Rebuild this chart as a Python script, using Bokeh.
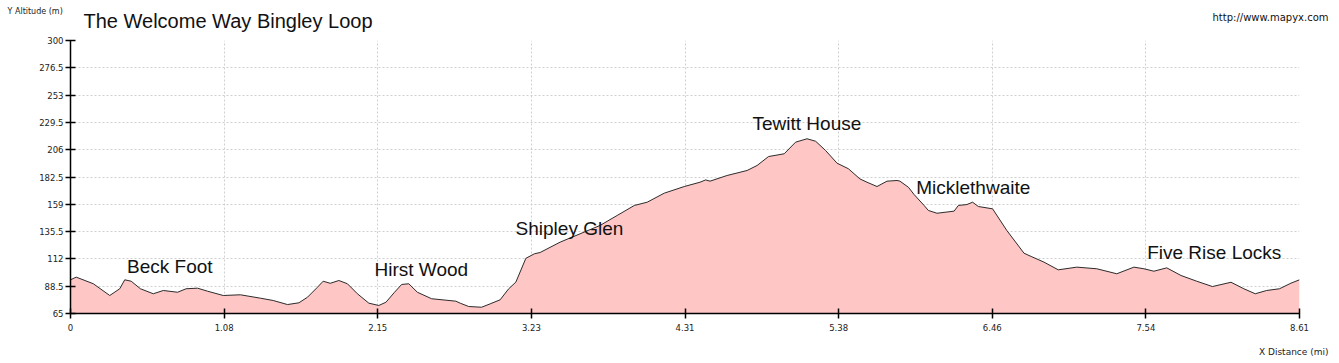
from bokeh.plotting import figure
from bokeh.models import Range1d, FixedTicker, Label
from bokeh.embed import file_html
from bokeh.resources import INLINE

# ---- data ----
distance_mi = [0.00, 0.04, 0.16, 0.275, 0.345, 0.38, 0.425, 0.49, 0.58, 0.65, 0.75, 0.81, 0.89, 0.96,
               1.07, 1.19, 1.33, 1.42, 1.52, 1.60, 1.66, 1.73, 1.77, 1.82, 1.88, 1.94, 2.01, 2.09,
               2.16, 2.21, 2.27, 2.32, 2.37, 2.43, 2.53, 2.70, 2.73, 2.79, 2.88, 2.94, 3.01, 3.07,
               3.12, 3.19, 3.25, 3.29, 3.43, 3.57, 3.71, 3.83, 3.95, 4.04, 4.16, 4.30, 4.41, 4.45,
               4.48, 4.60, 4.74, 4.81, 4.89, 5.00, 5.08, 5.16, 5.22, 5.29, 5.37, 5.45, 5.53, 5.58,
               5.65, 5.72, 5.79, 5.81, 5.87, 5.91, 5.98, 6.01, 6.07, 6.19, 6.22, 6.28, 6.32, 6.36,
               6.46, 6.56, 6.68, 6.73, 6.82, 6.92, 7.05, 7.19, 7.33, 7.45, 7.52, 7.59, 7.68, 7.78,
               7.89, 8.00, 8.13, 8.22, 8.30, 8.38, 8.47, 8.55, 8.61]
altitude_m = [94.0, 96.3, 90.6, 80.5, 86.3, 94.0, 92.8, 86.3, 82.0, 84.8, 83.3, 86.3, 86.8, 84.2,
              80.5, 81.1, 78.2, 76.2, 72.7, 74.2, 79.0, 87.6, 92.8, 91.0, 93.4, 90.6, 82.0, 73.9,
              71.9, 74.7, 83.3, 90.0, 90.6, 83.3, 77.7, 75.6, 73.9, 71.0, 70.4, 73.3, 76.8, 86.3,
              92.0, 112.5, 116.4, 117.5, 126.4, 133.6, 140.8, 149.4, 158.0, 160.8, 168.6, 174.3, 178.0, 180.0,
              178.9, 183.8, 188.1, 192.4, 200.1, 202.5, 212.5, 215.4, 213.3, 205.3, 194.4, 189.6, 180.9, 178.0,
              174.3, 178.9, 179.5, 179.0, 173.7, 167.4, 158.0, 153.7, 151.3, 153.1, 158.0, 158.8, 160.8, 157.1,
              155.1, 136.4, 116.9, 114.1, 109.2, 102.6, 104.9, 103.5, 99.2, 104.9, 103.5, 101.4, 104.3, 97.7,
              92.8, 88.2, 91.9, 86.3, 82.0, 84.8, 86.3, 91.1, 94.0]

x_tick_labels = ["0", "1.08", "2.15", "3.23", "4.31", "5.38", "6.46", "7.54", "8.61"]
y_tick_labels = ["65", "88.5", "112", "135.5", "159", "182.5", "206", "229.5", "253", "276.5", "300"]

place_names = ["Beck Foot", "Hirst Wood", "Shipley Glen", "Tewitt House", "Micklethwaite", "Five Rise Locks"]
place_x = [0.396, 2.13, 3.118, 4.778, 5.925, 7.543]
place_y = [105.7, 102.8, 138.1, 228.5, 173.4, 117.2]

title_text = "The Welcome Way Bingley Loop"
url_text = "http://www.mapyx.com"
x_label = "X Distance (mi)"
y_label = "Y Altitude (m)"

# ---- derived ----
x_max = 8.61
y_min, y_max = 65, 300
x_ticks = [x_max * k / 8 for k in range(9)]
y_ticks = [float(s) for s in y_tick_labels]

p = figure(width=1339, height=363, output_backend="svg", toolbar_location=None,
           x_range=Range1d(0, x_max), y_range=Range1d(y_min, y_max),
           min_border_left=70, min_border_right=40, min_border_top=40, min_border_bottom=50)
p.outline_line_color = None
p.background_fill_color = "white"
p.border_fill_color = "white"
p.title.visible = False

p.varea(x=distance_mi, y1=[y_min] * len(distance_mi), y2=altitude_m, fill_color="#FFC6C6", fill_alpha=1.0)
p.line(x=distance_mi, y=altitude_m, line_color="#2b2b2b", line_width=1)

for ax, ticks, labels in ((p.xaxis[0], x_ticks, x_tick_labels), (p.yaxis[0], y_ticks, y_tick_labels)):
    ax.ticker = FixedTicker(ticks=ticks)
    ax.major_label_overrides = {t: s for t, s in zip(ticks, labels)}
    ax.axis_line_color = "black"
    ax.axis_line_width = 1.5
    ax.major_tick_line_color = "black"
    ax.major_tick_line_width = 1.5
    ax.major_tick_in = 5
    ax.major_tick_out = 5
    ax.minor_tick_line_color = None
    ax.major_label_text_font = "DejaVu Sans"
    ax.major_label_text_font_size = "8.5px"
    ax.major_label_text_color = "#222222"
p.xaxis.major_label_standoff = 5
p.yaxis.major_label_standoff = 2

for g in (p.xgrid[0], p.ygrid[0]):
    g.grid_line_color = "#cfcfcf"
    g.grid_line_dash = "2 2"
    g.grid_line_width = 1

for name, xx, yy in zip(place_names, place_x, place_y):
    p.add_layout(Label(x=xx, y=yy, text=name, text_font="Liberation Sans", text_font_size="19px",
                       text_color="#111111", text_baseline="alphabetic", text_align="left"))

# texts in the side panels (screen units relative to each text's own slot)
p.add_layout(Label(x=-63, y=29, x_units="screen", y_units="screen", text=y_label,
                   text_font="DejaVu Sans", text_font_size="8px", text_color="#222222",
                   text_baseline="alphabetic"), "above")
p.add_layout(Label(x=13, y=11, x_units="screen", y_units="screen", text=title_text,
                   text_font="Liberation Sans", text_font_size="20px", text_color="#111111",
                   text_baseline="alphabetic"), "above")
p.add_layout(Label(x=1258, y=-8, x_units="screen", y_units="screen", text=x_label,
                   text_font="DejaVu Sans", text_font_size="9px", text_color="#222222",
                   text_baseline="alphabetic", text_align="right"), "below")
p.add_layout(Label(x=1142, y=337, x_units="screen", y_units="screen", text=url_text,
                   text_font="DejaVu Sans", text_font_size="10px", text_color="#111111",
                   text_baseline="alphabetic"), "below")

open("out.html", "w").write(file_html(p, INLINE))
